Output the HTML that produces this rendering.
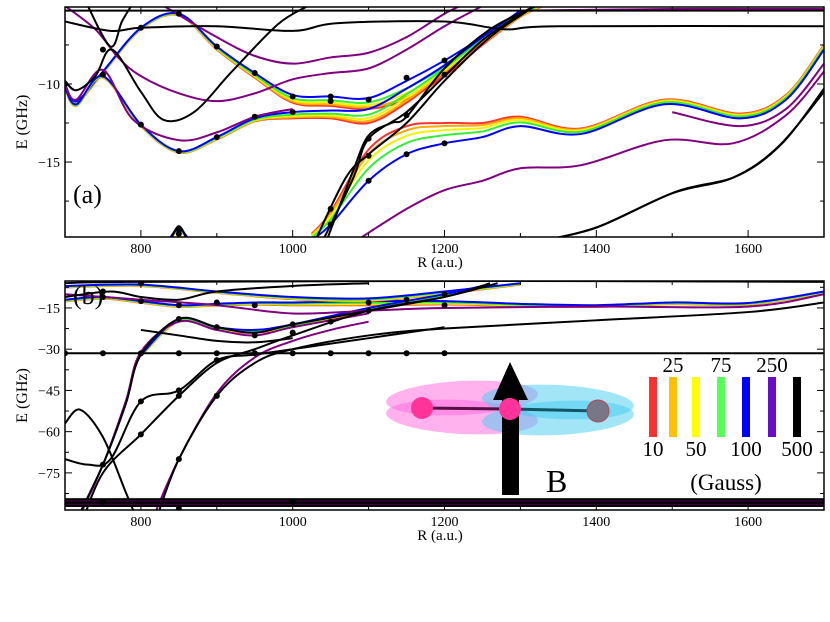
<!DOCTYPE html>
<html><head><meta charset="utf-8"><style>
html,body{margin:0;padding:0;background:#fff;}
svg{display:block;font-family:"Liberation Serif",serif;}
</style></head><body>
<svg id="fig" width="830" height="622" viewBox="0 0 830 622" xmlns="http://www.w3.org/2000/svg">
<defs>
<clipPath id="clipA"><rect x="65" y="7" width="759" height="230"/></clipPath>
<clipPath id="clipB"><rect x="65" y="281" width="759" height="229"/></clipPath>
</defs>
<g id="panelA"></g>
<g id="panelB"></g>
<g id="inset">
  <ellipse cx="462" cy="398" rx="76" ry="17" transform="rotate(-3 462 398)" fill="#ff66dd" opacity="0.5"/>
  <ellipse cx="462" cy="417" rx="76" ry="17" transform="rotate(3 462 417)" fill="#ff66dd" opacity="0.5"/>
  <ellipse cx="558" cy="402" rx="76" ry="17" transform="rotate(3 558 402)" fill="#44ccf0" opacity="0.5"/>
  <ellipse cx="558" cy="418" rx="76" ry="17" transform="rotate(-3 558 418)" fill="#44ccf0" opacity="0.5"/>
  <path d="M502 495 L502 400 L493 400 L510 362 L528 400 L519 400 L519 495 Z" fill="#000"/>
  <line x1="422" y1="408" x2="510" y2="409" stroke="#551144" stroke-width="3"/>
  <line x1="510" y1="409" x2="598" y2="411" stroke="#115566" stroke-width="3"/>
  <circle cx="422" cy="408" r="11" fill="#ff3399"/>
  <circle cx="510" cy="409" r="11" fill="#ff3399"/>
  <circle cx="598" cy="411" r="11" fill="#777788" stroke="#bb4455" stroke-width="1"/>
  <text x="546" y="492" font-size="32">B</text>
</g>
<g id="legend"></g>
</svg>
<script>
// ---------- data ----------
const fieldLabels = ["10","25","50","75","100","250","500"];
const fieldColors = ["#ff3030","#ffaa00","#f2f200","#33ee33","#0000ff","#7a0088","#000000"];
const legendColors = ["#ff3030","#ffc000","#ffff00","#55ff55","#0000ff","#6a0dc8","#000000"];
const spreadFrac = [1.0,0.85,0.65,0.4,0.0];

// panel (a) rainbow bundles: base (blue) curve and red-offset spread (GHz)
const aBundle1 = [[700,-10],[715,-11.1],[750,-9.2],[800,-6.4],[850,-5.5],[900,-7.6],[950,-9.3],[1000,-10.7],[1050,-10.8],[1100,-10.9],[1150,-9.8],[1200,-8.5],[1250,-7.0],[1300,-5.5],[1330,-4.8]];
const aSpread1 = [0.1,0.1,0.1,0.1,0.1,0.2,0.3,0.5,0.6,0.7,1.2,1.0,0.5,0.2,0.2];
const aBundle2 = [[700,-10.2],[715,-11.3],[750,-9.5],[800,-12.6],[850,-14.3],[900,-13.4],[950,-12.2],[1000,-11.8],[1050,-11.7],[1100,-11.6],[1150,-10.3],[1200,-8.8],[1250,-7],[1300,-5.3]];
const aSpread2 = [0.1,0.1,0.1,0.1,0.1,0.15,0.2,0.4,0.5,0.9,0.9,0.5,0.3,0.2];
const aBundle3 = [[1025,-20],[1050,-19],[1100,-16.2],[1150,-14.5],[1200,-13.8],[1250,-13.4],[1300,-12.7],[1380,-13.2],[1490,-11.3],[1590,-12.2],[1650,-11],[1700,-7.8]];
const aSpread3 = [-0.4,-0.8,-2.0,-1.8,-1.3,-0.9,-0.6,-0.35,-0.3,-0.3,-0.3,-0.3];
const aBundle4 = [[830,-20.5],[850,-19.3],[870,-20.5]];
const aSpread4 = [0.1,0.1,0.1];
const aPurple = [
 [[700,-5.0],[740,-6.5],[770,-8.3],[800,-9.5],[850,-10.6],[900,-11.1],[950,-10.6],[1000,-9.7],[1050,-9.3],[1100,-9.0],[1150,-7.8],[1200,-6.3],[1250,-5]],
 [[830,-5],[900,-7],[950,-8.2],[1000,-8.7],[1050,-8.3],[1100,-8.0],[1150,-7],[1200,-5.5],[1230,-4.8]],
 [[700,-10.1],[715,-11.0],[750,-9.1],[790,-12.3],[850,-13.6],[900,-13.1],[950,-12.1],[1000,-11.6]],
 [[1085,-20],[1150,-18],[1200,-16.8],[1250,-16.2],[1300,-15.4],[1380,-15.2],[1490,-13.6],[1580,-13.8],[1650,-12],[1700,-9.2]],
 [[1500,-11.8],[1590,-12.7],[1650,-11.6],[1700,-8.7]],
 [[1300,-5.3],[1500,-5.2],[1700,-5.2]]
];
const aBlack = [
 [[700,-5.3],[1700,-5.3]],
 [[700,-6.0],[760,-6.6],[800,-6.4],[900,-6.3],[1000,-6.6],[1060,-6.1],[1200,-6.0],[1280,-6.5],[1350,-6.3],[1700,-6.3]],
 [[700,-9.8],[715,-10.4],[740,-9.5],[762,-7.8],[800,-10.5],[830,-12.3],[870,-11.8],[920,-9.2],[980,-6.2],[1020,-5]],
 [[730,-5],[760,-7.6],[775,-6],[790,-4.8]],
 [[1040,-20],[1080,-16],[1100,-13.5],[1150,-11.8],[1200,-9.5],[1250,-7.2],[1300,-5.5]],
 [[1030,-20],[1070,-16],[1100,-14.5],[1150,-12.5],[1200,-9.8],[1260,-7],[1310,-5.3]],
 [[1045,-20],[1080,-15.5],[1100,-13.3],[1130,-12.5],[1150,-12.1],[1200,-9.0],[1260,-6.5],[1320,-5]],
 [[1330,-20],[1400,-19.2],[1500,-17],[1580,-16],[1640,-14],[1700,-10.5]],
 [[1335,-20],[1405,-19.1],[1505,-16.9],[1585,-15.9],[1645,-13.8],[1700,-10.3]],
 [[835,-20.5],[850,-19.1],[865,-20.5]]
];
const aDots = [[700,-10],[750,-9.4],[750,-7.8],[800,-6.4],[800,-12.6],[850,-5.5],[850,-14.3],[850,-19.3],[850,-19.6],[900,-7.6],[900,-13.4],[950,-9.3],[950,-12.1],[1000,-10.8],[1000,-11.8],[1050,-10.8],[1050,-11.1],[1050,-18],[1050,-19],[1100,-11],[1100,-13.5],[1100,-14.6],[1100,-16.2],[1150,-9.6],[1150,-12],[1150,-14.5],[1200,-8.5],[1200,-9.4],[1200,-13.8]];

// panel (b)
const bBundle1 = [[700,-12],[750,-11],[800,-12.5],[850,-14],[900,-13.5],[950,-13],[1000,-13],[1100,-12.5],[1200,-12.5],[1300,-13.5],[1400,-14],[1500,-13],[1600,-13.2],[1700,-9]];
const bSpread1 = [0.6,0.6,0.6,0.6,0.6,0.8,1.0,1.5,1.2,0.8,0.6,0.6,0.6,0.6];
const bBundle2 = [[700,-7],[800,-6.5],[900,-9],[1000,-11],[1100,-11.5],[1200,-9],[1300,-6]];
const bSpread2 = [0.5,0.5,0.5,0.8,1.0,0.8,0.5];
const bBundle3 = [[800,-32],[850,-19],[900,-22],[950,-23],[1000,-21],[1100,-15],[1200,-10],[1250,-7]];
const bSpread3 = [0.5,0.8,1,1,1,1,0.8,0.5];
const bPurple = [
 [[700,-10],[800,-12],[900,-14],[1000,-17],[1100,-16],[1200,-15],[1400,-14.5],[1600,-14.5],[1700,-10]],
 [[815,-92],[850,-70],[900,-46],[950,-33],[1000,-27],[1050,-23],[1100,-20]],
 [[712,-95],[750,-72],[780,-49],[800,-31],[850,-20],[900,-23],[950,-25],[1000,-22],[1100,-17]]
];
const bBlack = [
 [[700,-31.5],[1700,-31.5]],
 [[700,-70],[730,-72],[760,-70],[800,-49],[850,-45],[900,-34],[950,-32],[1000,-30],[1100,-26],[1200,-22]],
 [[710,-95],[750,-72],[780,-50],[800,-32],[850,-19],[900,-22],[950,-24],[1000,-21],[1100,-16],[1200,-11],[1260,-6]],
 [[720,-95],[750,-75],[800,-61],[850,-47],[900,-35],[950,-30],[1000,-25],[1100,-16],[1200,-11],[1270,-6]],
 [[820,-92],[850,-70],[900,-47],[950,-35],[1000,-30],[1100,-25],[1200,-22.5],[1400,-19.5],[1600,-16.5],[1700,-13]],
 [[700,-57],[720,-52],[750,-62],[780,-82],[795,-92]],
 [[800,-23],[850,-25],[900,-27],[950,-27.5],[1000,-26]],
 [[700,-6],[800,-5.5],[1300,-5.2],[1700,-5.5]],
 [[700,-11],[760,-9],[800,-11],[850,-12],[900,-9],[1000,-7],[1100,-6]]
];
// thick bottom band of nearly flat levels (GHz)
const bBandTop = -84.2;
const bBandBot = -87.4;
const bBandPurple = [-85.2,-86.4];
const bDots = [[700,-31.5],[750,-31.5],[800,-31.5],[850,-31.5],[900,-31.5],[950,-31.5],[1000,-31.5],[1050,-31.5],[1100,-31.5],[1150,-31.5],[1200,-31.5],[750,-72],[750,-9],[750,-11],[800,-12.5],[800,-6],[800,-49],[800,-61],[850,-19],[850,-14],[850,-45],[850,-47],[850,-70],[900,-22],[900,-13],[900,-34],[900,-47],[950,-25],[950,-14],[1000,-21],[1000,-24],[1050,-20],[1100,-16],[1100,-13],[1150,-12],[1200,-10],[1200,-14],[750,-85.5],[850,-88],[1000,-85.5]];

const xTicks = [800,1000,1200,1400,1600];
const aYTicks = [-10,-15];
const bYTicks = [-15,-30,-45,-60,-75];

// ---------- axes ----------
const NS = "http://www.w3.org/2000/svg";
const X0=65, X1=824, R0=700, R1=1700;
function xs(r){return X0+(r-R0)/(R1-R0)*(X1-X0);}
const A = {top:7,bot:237,e0:-5.07,e1:-19.8};
const B = {top:281,bot:510,e0:-5.2,e1:-88.5};
function ys(p,e){return p.top+(e-p.e0)/(p.e1-p.e0)*(p.bot-p.top);}
function mk(tag,attrs,parent){const el=document.createElementNS(NS,tag);for(const k in attrs)el.setAttribute(k,attrs[k]);parent.appendChild(el);return el;}
function pathD(pts){
  if(pts.length===2)return `M${pts[0][0]},${pts[0][1]}L${pts[1][0]},${pts[1][1]}`;
  let d=`M${pts[0][0]},${pts[0][1]}`;
  for(let i=0;i<pts.length-1;i++){
    const p0=pts[Math.max(0,i-1)],p1=pts[i],p2=pts[i+1],p3=pts[Math.min(pts.length-1,i+2)];
    const c1=[p1[0]+(p2[0]-p0[0])/6,p1[1]+(p2[1]-p0[1])/6];
    const c2=[p2[0]-(p3[0]-p1[0])/6,p2[1]-(p3[1]-p1[1])/6];
    d+=`C${c1[0]},${c1[1]} ${c2[0]},${c2[1]} ${p2[0]},${p2[1]}`;
  }
  return d;
}
function curve(g,p,data,color,w,name){
  const pts=data.map(d=>[xs(d[0]),ys(p,d[1])]);
  const el=mk('path',{d:pathD(pts),fill:'none',stroke:color,'stroke-width':w},g);
  
  
}
function bundle(g,p,base,spread,name){
  for(let c=0;c<5;c++){
    const data=base.map((d,i)=>[d[0],d[1]-spread[i]*spreadFrac[c]]);
    curve(g,p,data,fieldColors[c],2,name+'-'+fieldLabels[c]+'g');
  }
}
function panel(gid,p,clip,bundles,purples,blacks,dots,yTicks,minorStep,label,extra){
  const g=document.getElementById(gid);
  const plot=mk('g',{'clip-path':`url(#${clip})`},g);
  
  
  bundles.forEach((b,i)=>bundle(plot,p,b[0],b[1],'rainbow-bundle-'+(i+1)));
  purples.forEach((c,i)=>curve(plot,p,c,'#800080',2,'curve-250g-'+(i+1)));
  blacks.forEach((c,i)=>curve(plot,p,c,'#000',2,'curve-500g-'+(i+1)));
  if(extra)extra(plot);
  dots.forEach(d=>{
    const el=mk('circle',{cx:xs(d[0]),cy:ys(p,d[1]),r:3,fill:'#000'},plot);
    
    
  });
  const fr=mk('rect',{x:X0,y:p.top,width:X1-X0,height:p.bot-p.top,fill:'none',stroke:'#000','stroke-width':1.5},g);
  
  
  for(let r=700;r<=1700;r+=100){
    const len=(r%200===0)?7:4;
    mk('line',{x1:xs(r),x2:xs(r),y1:p.bot,y2:p.bot-len,stroke:'#000'},g);
    mk('line',{x1:xs(r),x2:xs(r),y1:p.top,y2:p.top+len,stroke:'#000'},g);
  }
  xTicks.forEach(r=>{
    const t=mk('text',{x:xs(r),y:p.bot+16,'font-size':14,'text-anchor':'middle'},g);
    t.textContent=r;
    
    
  });
  const xt=mk('text',{x:440,y:p.bot+30,'font-size':15,'text-anchor':'middle'},g);
  xt.textContent='R (a.u.)';
  
  
  for(let e=Math.ceil(p.e1/minorStep)*minorStep;e<=p.e0;e+=minorStep){
    const y=ys(p,e);
    const major=yTicks.some(v=>Math.abs(v-e)<1e-6);
    const len=major?7:4;
    mk('line',{x1:X0,x2:X0+len,y1:y,y2:y,stroke:'#000'},g);
    mk('line',{x1:X1,x2:X1-len,y1:y,y2:y,stroke:'#000'},g);
  }
  yTicks.forEach(e=>{
    const t=mk('text',{x:X0-5,y:ys(p,e)+5,'font-size':14,'text-anchor':'end'},g);
    t.textContent='\u2212'+Math.abs(e);
    
    
  });
  const cy=(p.top+p.bot)/2;
  const yt=mk('text',{x:27,y:cy,'font-size':16,'text-anchor':'middle',transform:`rotate(-90 27 ${cy})`},g);
  yt.textContent='E (GHz)';
  
  
  const pl=mk('text',{x:label[1],y:label[2],'font-size':26},g);
  pl.textContent=label[0];
  
  
}
panel('panelA',A,'clipA',[[aBundle1,aSpread1],[aBundle2,aSpread2],[aBundle3,aSpread3],[aBundle4,aSpread4]],aPurple,aBlack,aDots,aYTicks,2.5,['(a)',73,203]);
panel('panelB',B,'clipB',[[bBundle1,bSpread1],[bBundle2,bSpread2],[bBundle3,bSpread3]],bPurple,bBlack,bDots,bYTicks,7.5,['(b)',73,304],function(plot){
  const y0=ys(B,bBandTop), y1=ys(B,bBandBot);
  const band=mk('rect',{x:X0,y:y0,width:X1-X0,height:y1-y0,fill:'#000'},plot);
  
  
  bBandPurple.forEach(e=>{
    const l=mk('line',{x1:X0,x2:X1,y1:ys(B,e),y2:ys(B,e),stroke:'#500050','stroke-width':1},plot);
    
    
  });
});

// legend
const lg=document.getElementById('legend');
const legendX=[653,673,696,721,746,772,797];
fieldLabels.forEach((lab,i)=>{
  const r=mk('rect',{x:legendX[i]-4,y:377,width:8,height:60,fill:legendColors[i]},lg);
  
  
  const t=mk('text',{x:legendX[i],y:(i%2===1)?372:456,'font-size':21,'text-anchor':'middle'},lg);
  t.textContent=lab;
  
  
});
const gt=mk('text',{x:726,y:490,'font-size':23,'text-anchor':'middle'},lg);
gt.textContent='(Gauss)';


</script>
</body></html>
